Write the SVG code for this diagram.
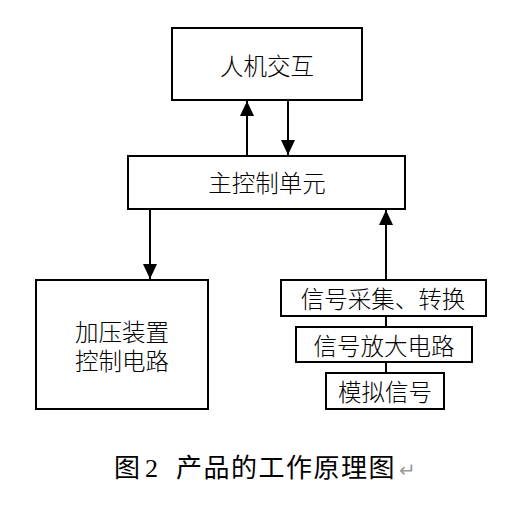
<svg xmlns="http://www.w3.org/2000/svg" width="516" height="515" viewBox="0 0 516 515">
<defs>
<style>
.box{fill:#fff;stroke:#000;stroke-width:2}
.t{font-family:"Noto Sans CJK SC","Noto Sans CJK JP",sans-serif;font-size:23.5px;font-weight:300;fill:#000;text-anchor:middle;dominant-baseline:central}
.ln{stroke:#000;stroke-width:2;fill:none}
.cap{font-family:"Noto Sans CJK SC",sans-serif;font-size:26px;fill:#000}
</style>
<marker id="ah" markerUnits="userSpaceOnUse" markerWidth="16" markerHeight="16" viewBox="0 0 16 16" refX="15" refY="8" orient="auto">
<path d="M0,1 L15,8 L0,15 Z" fill="#000"/>
</marker>
</defs>
<rect width="516" height="515" fill="#fff"/>
<g id="connectors">
<line class="ln" x1="247" y1="156" x2="247" y2="101" marker-end="url(#ah)"/>
<line class="ln" x1="288" y1="100" x2="288" y2="155" marker-end="url(#ah)"/>
<line class="ln" x1="150" y1="209" x2="150" y2="279" marker-end="url(#ah)"/>
<line class="ln" x1="386" y1="280" x2="386" y2="210" marker-end="url(#ah)"/>
<line class="ln" x1="386" y1="316" x2="386" y2="327"/>
<line class="ln" x1="386" y1="362" x2="386" y2="373"/>
</g>
<g id="hmi">
<rect class="box" x="172" y="28" width="190" height="72"/>
<text class="t" x="267" y="65">人机交互</text>
</g>
<g id="mcu">
<rect class="box" x="128" y="156" width="277" height="53"/>
<text class="t" x="267" y="182">主控制单元</text>
</g>
<g id="press">
<rect class="box" x="36" y="280" width="172" height="129"/>
<text class="t" x="122" y="331"><tspan x="122" y="331">加压装置</tspan><tspan x="122" y="360">控制电路</tspan></text>
</g>
<g id="acq">
<rect class="box" x="281" y="280" width="205" height="36"/>
<text class="t" x="383" y="298">信号采集、转换</text>
</g>
<g id="amp">
<rect class="box" x="296" y="327" width="176" height="35"/>
<text class="t" x="384" y="345">信号放大电路</text>
</g>
<g id="analog">
<rect class="box" x="326" y="373" width="118" height="36"/>
<text class="t" x="385" y="391">模拟信号</text>
</g>
<text class="cap" y="477"><tspan x="114">图</tspan><tspan x="145" font-family="Liberation Serif" font-size="26">2</tspan><tspan x="176" letter-spacing="1.5">产品的工作原理图</tspan><tspan x="399" fill="#999" font-size="20">↵</tspan></text>
</svg>
